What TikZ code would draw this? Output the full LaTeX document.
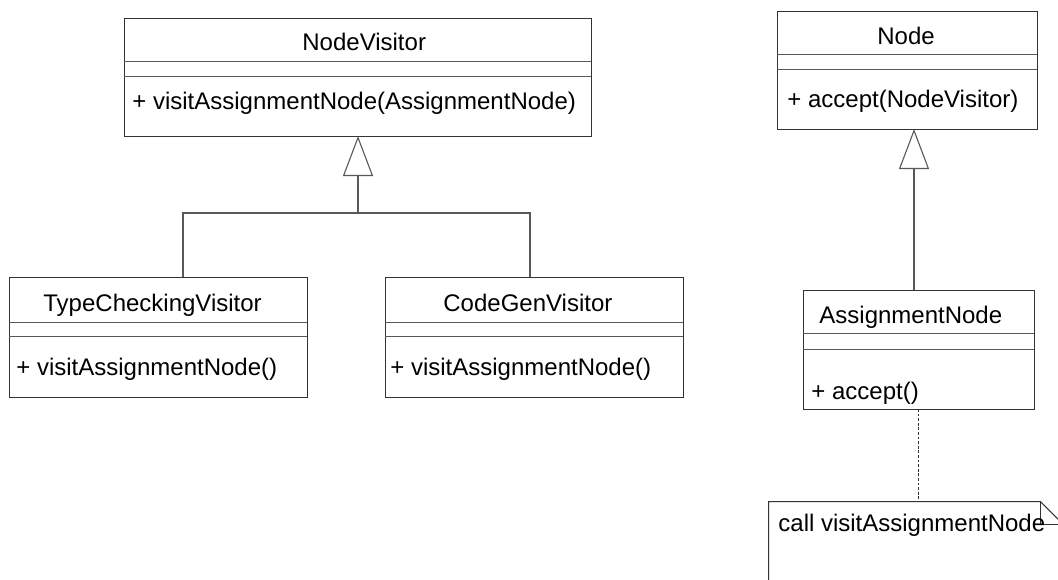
\documentclass[tikz,border=0pt]{standalone}
\usepackage{fontspec}
\setmainfont{Liberation Sans}
\usetikzlibrary{arrows.meta}

\tikzset{
  classbox/.style={draw=black!80, line width=0.5pt, inner sep=0pt, outer sep=0pt},
  sepline/.style={draw=black!65, line width=0.5pt},
  classtext/.style={anchor=base west, inner sep=0pt, font=\fontsize{12}{14.4}\selectfont},
  conn/.style={draw=black!65, line width=0.55pt},
  generalize/.style={conn, -{Triangle[open, length=20pt, width=15pt]}},
  notebox/.style={draw=black!80, line width=0.5pt},
  noteline/.style={draw=black!80, line width=0.5pt, dash pattern=on 1.4pt off 0.9pt}
}

\begin{document}
\begin{tikzpicture}[x=0.5pt, y=-0.5pt]
    \useasboundingbox (0,0) rectangle (1058,579);
    \clip (0,0) rectangle (1058,579);
    \fill[white] (0,0) rectangle (1058,579);

    % Class boxes
    \foreach \name/\cx/\cy/\w/\h in {nv/357.5/77/233.5/59, tcv/158/337/149/60, cgv/534/337/149/60, nd/907/70/130/59, an/918.5/349.5/115.5/59.5}
        \node[classbox, minimum width=\w pt, minimum height=\h pt] (\name) at (\cx,\cy) {};

    % Compartment separators
    \foreach \name/\ya/\yb in {nv/61/76, tcv/322/336, cgv/322/336, nd/54/69, an/333/349} {
        \draw[sepline] (\name.west |- 0,\ya) -- (\name.east |- 0,\ya);
        \draw[sepline] (\name.west |- 0,\yb) -- (\name.east |- 0,\yb);
    }

    % Class names and operations
    \foreach \name/\x/\y/\txt in {nvname/302/50/NodeVisitor, nvop/132/109/+ visitAssignmentNode(AssignmentNode),
        tcvname/43/311/TypeCheckingVisitor, tcvop/16/375/+ visitAssignmentNode(),
        cgvname/443/311/CodeGenVisitor, cgvop/390/375/+ visitAssignmentNode(),
        ndname/877/44/Node, ndop/787/107/+ accept(NodeVisitor),
        anname/819/323/AssignmentNode, anop/811/399/+ accept()}
        \node[classtext] (\name) at (\x,\y) {\txt};

    % Note
    \node[minimum width=147pt, minimum height=59pt, inner sep=0pt] (note) at (916,561) {};
    \draw[notebox] (note.south west) -- (note.north west) -- ([xshift=-11.5pt]note.north east) -- ([yshift=-11.5pt]note.north east) -- (note.south east);
    \draw[notebox] ([xshift=-11.5pt]note.north east) |- ([yshift=-11.5pt]note.north east);
    \node[classtext] (notetext) at (778,531) {call visitAssignmentNode};

    % Generalizations
    \coordinate (nvjoin) at (358,213);
    \draw[generalize] (nvjoin) -- (nvjoin |- nv.south);
    \draw[conn] ([xshift=12.5pt]tcv.north) |- (nvjoin) -| ([xshift=-2pt]cgv.north);
    \coordinate (ndfoot) at ([xshift=-2.25pt]an.north);
    \draw[generalize] (ndfoot) -- (ndfoot |- nd.south);

    % Note anchor
    \draw[noteline] (an.south) -- (an.south |- note.north);
\end{tikzpicture}
\end{document}
